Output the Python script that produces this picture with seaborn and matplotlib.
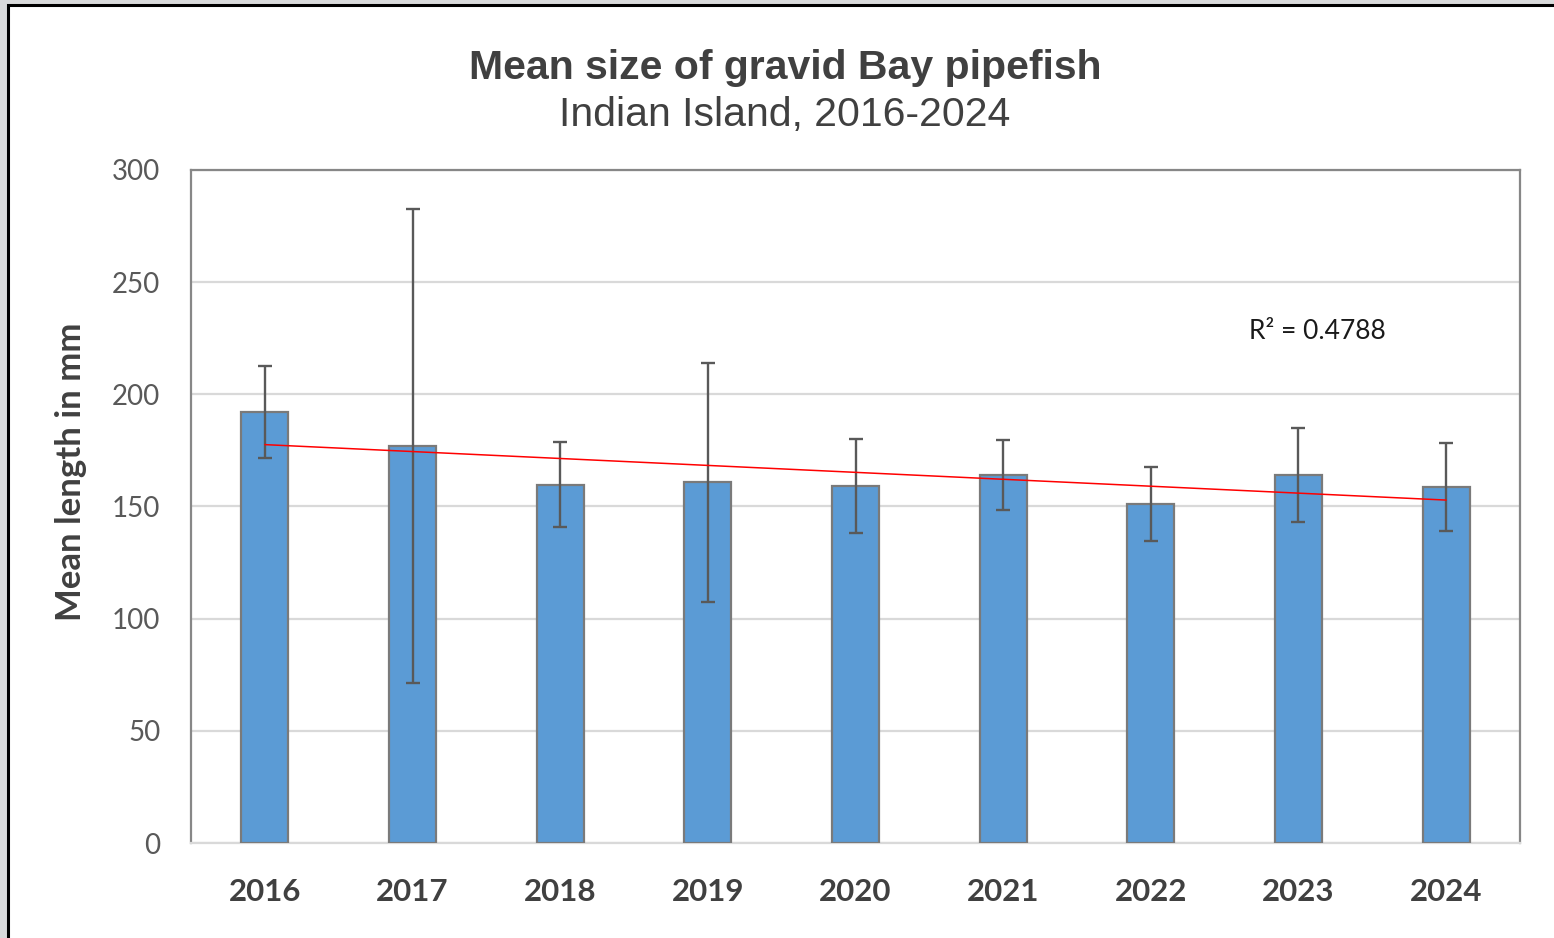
import numpy as np
import pandas as pd
import matplotlib
matplotlib.use("Agg")
import matplotlib.pyplot as plt
from matplotlib.patches import Rectangle
import seaborn as sns

# valores
years = ["2016", "2017", "2018", "2019", "2020", "2021", "2022", "2023", "2024"]
mean_len = [192.2, 176.9, 159.7, 160.7, 159.2, 164.1, 151.3, 164.1, 158.8]
sd_len = [20.6, 105.8, 18.9, 53.4, 21.1, 15.5, 16.5, 20.8, 19.5]
r2_text = "R² = 0.4788"

BAR_BLUE = "#5B9BD5"
df = pd.DataFrame({"year": years, "mean": mean_len, "sd": sd_len})

sns.set_theme(style="white")
plt.rcParams["font.family"] = ["Lato", "DejaVu Sans"]

fig = plt.figure(figsize=(15.54, 9.38), dpi=100, facecolor="#d9dadb")
# moldura do slide
fig.patches.append(Rectangle((8 / 1554, -0.02), 1.05, 1 - 5 / 938 + 0.02,
                             transform=fig.transFigure, facecolor="white",
                             edgecolor="black", lw=2.2, zorder=-5))
ax = fig.add_axes([191 / 1554, 1 - 843 / 938, (1520 - 191) / 1554, (843 - 170) / 938])
ax.set_zorder(2)
ax.set_facecolor("white")

sns.barplot(data=df, x="year", y="mean", color=BAR_BLUE, saturation=1,
            width=0.32, edgecolor="#7a7a7a", linewidth=1.6, errorbar=None,
            ax=ax, zorder=3)
xpos = np.arange(len(years))
ax.errorbar(xpos, df["mean"], yerr=df["sd"], fmt="none", ecolor="#595959",
            elinewidth=1.7, capsize=5, capthick=1.7, zorder=4)

# linha de tendência linear
coef = np.polyfit(xpos, df["mean"], 1)
ax.plot(xpos[[0, -1]], np.polyval(coef, xpos[[0, -1]]), color="#FF0000",
        lw=1.1, zorder=5)
ax.text(7.13, 228, r2_text, ha="center", va="center", fontsize=19,
        color="#1a1a1a", family=["Lato", "DejaVu Sans"])

ax.set_xlim(-0.5, 8.5)
ax.set_ylim(0, 300)
ax.set_yticks(range(0, 301, 50))
ax.yaxis.grid(True, color="#d9d9d9", lw=1.6, zorder=0)
ax.set_axisbelow(True)
for side in ["left", "top", "right"]:
    ax.spines[side].set_color("#878787")
    ax.spines[side].set_linewidth(1.6)
ax.spines["bottom"].set_color("#d9d9d9")
ax.spines["bottom"].set_linewidth(1.6)

ax.tick_params(axis="y", length=0, pad=22, labelsize=20, labelcolor="#595959")
ax.tick_params(axis="x", length=0, pad=25, labelsize=22.5, labelcolor="#404040")
for lab in ax.get_xticklabels():
    lab.set_fontweight("bold")
ax.set_xlabel("")
ax.set_ylabel("")

fig.text(71 / 1554, 1 - 472 / 938, "Mean length in mm", rotation=90,
         ha="center", va="center", fontsize=25, fontweight="bold", color="#404040")
fig.text(785 / 1554, 1 - 68 / 938, "Mean size of gravid Bay pipefish",
         ha="center", va="center", fontsize=29.5, fontweight="bold",
         color="#404040", family=["Liberation Sans", "DejaVu Sans"])
fig.text(785 / 1554, 1 - 115 / 938, "Indian Island, 2016-2024",
         ha="center", va="center", fontsize=29.5,
         color="#404040", family=["Liberation Sans", "DejaVu Sans"])

fig.savefig("out.png", dpi=100, facecolor=fig.get_facecolor())
plt.close(fig)
